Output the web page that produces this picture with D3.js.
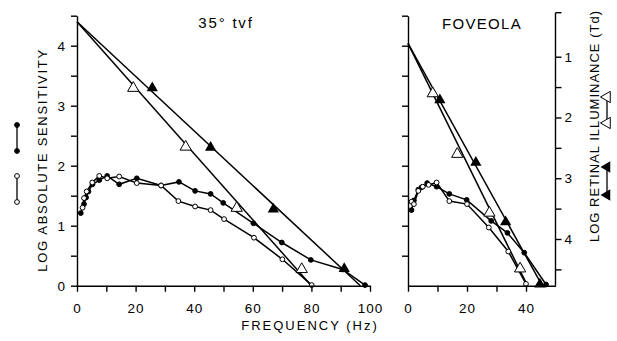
<!DOCTYPE html>
<html>
<head>
<meta charset="utf-8">
<script src="https://cdn.jsdelivr.net/npm/d3@7"></script>
<style>
  body { margin: 0; background: #fff; }
  text { font-family: "Liberation Sans", Arial, sans-serif; fill: #000; }
</style>
</head>
<body>
<div id="chart"></div>
<script>
// ---- data ----
// 35 deg temporal visual field
const tvfFilledFreq = [1.3, 2.4, 3.1, 3.9, 5.3, 7.6, 10.3, 14.4, 20.4, 28.7, 34.8, 40.3, 45.6, 49.9, 60.2, 69.9, 79.8, 90.7, 98.3];
const tvfFilledSens = [1.21, 1.36, 1.47, 1.57, 1.69, 1.76, 1.83, 1.69, 1.79, 1.67, 1.73, 1.58, 1.53, 1.38, 1.04, 0.72, 0.43, 0.27, 0.01];
const tvfOpenFreq   = [1.9, 2.4, 3.3, 5.2, 7.6, 10.3, 14.4, 20.4, 28.7, 34.6, 40.3, 45.6, 50.2, 60.4, 70.1, 80.1];
const tvfOpenSens   = [1.30, 1.46, 1.57, 1.72, 1.83, 1.79, 1.82, 1.71, 1.67, 1.41, 1.32, 1.26, 1.11, 0.80, 0.44, 0.01];
const tvfOpenTriFreq   = [19.2, 37.1, 54.5, 76.7];
const tvfOpenTriSens   = [3.31, 2.33, 1.31, 0.29];
const tvfFilledTriFreq = [25.7, 45.6, 67.0, 91.2];
const tvfFilledTriSens = [3.31, 2.32, 1.29, 0.30];
const tvfOpenFit   = [[0, 4.4], [80, 0]];
const tvfFilledFit = [[0, 4.4], [96.7, 0]];

// foveola
const fovFilledFreq = [1.2, 2.0, 3.5, 4.6, 6.5, 9.7, 14, 19.9, 28.2, 33.7, 39.4, 46.8];
const fovFilledSens = [1.26, 1.42, 1.60, 1.64, 1.71, 1.65, 1.53, 1.43, 1.08, 0.88, 0.55, 0.02];
const fovOpenFreq   = [1.2, 2.0, 3.5, 5.0, 7.0, 9.7, 14, 20, 27.4, 34, 40];
const fovOpenSens   = [1.40, 1.36, 1.58, 1.65, 1.68, 1.72, 1.41, 1.36, 0.97, 0.57, 0.03];
const fovOpenTriFreq   = [8.4, 16.7, 27.6, 38.0];
const fovOpenTriSens   = [3.22, 2.21, 1.23, 0.30];
const fovFilledTriFreq = [10.8, 23.0, 33.1, 44.7];
const fovFilledTriSens = [3.11, 2.07, 1.08, 0.04];
const fovOpenFit   = [[0, 4.04], [40.5, 0]];
const fovFilledFit = [[0, 4.04], [45.5, 0]];

const sensTicks = [0, 0.5, 1, 1.5, 2, 2.5, 3, 3.5, 4, 4.5];
const retinalTicks = [1, 1.5, 2, 2.5, 3, 3.5, 4, 4.5];
const tvfFreqTicks = [0, 10, 20, 30, 40, 50, 60, 70, 80, 90, 100];
const fovFreqTicks = [0, 10, 20, 30, 40, 50];

const W = 617, H = 341;
const svg = d3.select('#chart').append('svg').attr('width', W).attr('height', H);

const y = d3.scaleLinear().domain([0, 4.5]).range([285.7, 15.7]);
const xL = d3.scaleLinear().domain([0, 100]).range([77, 370]);
const xR = d3.scaleLinear().domain([0, 50]).range([408, 555.5]);
const yRet = d3.scaleLinear().domain([1, 4]).range([56.7, 239]);

const zip = (a, b) => a.map((v, i) => [v, b[i]]);
const tri = d3.symbol().type(d3.symbolTriangle).size(55);

function panel(x, sets) {
  const g = svg.append('g');
  const line = d3.line().x(d => x(d[0])).y(d => y(d[1]));

  // fit lines
  [sets.openFit, sets.filledFit].forEach(f => {
    g.append('path').attr('d', line(f)).attr('fill', 'none')
      .attr('stroke', '#000').attr('stroke-width', 1.5);
  });

  // circle curves
  [[sets.filled, '#000'], [sets.open, '#fff']].forEach(([pts, fill]) => {
    g.append('path').attr('d', line(pts)).attr('fill', 'none')
      .attr('stroke', '#000').attr('stroke-width', 1.5);
    g.selectAll(null).data(pts).enter().append('circle')
      .attr('cx', d => x(d[0])).attr('cy', d => y(d[1]))
      .attr('r', 2.4).attr('fill', fill).attr('stroke', '#000').attr('stroke-width', 1);
  });

  // triangles
  g.selectAll(null).data(sets.openTri).enter().append('path')
    .attr('d', tri).attr('transform', d => `translate(${x(d[0])},${y(d[1]) + 1})`)
    .attr('fill', '#fff').attr('stroke', '#000').attr('stroke-width', 1);
  g.selectAll(null).data(sets.filledTri).enter().append('path')
    .attr('d', tri).attr('transform', d => `translate(${x(d[0])},${y(d[1]) + 1})`)
    .attr('fill', '#000');
  return g;
}

panel(xL, {
  filled: zip(tvfFilledFreq, tvfFilledSens), open: zip(tvfOpenFreq, tvfOpenSens),
  openTri: zip(tvfOpenTriFreq, tvfOpenTriSens), filledTri: zip(tvfFilledTriFreq, tvfFilledTriSens),
  openFit: tvfOpenFit, filledFit: tvfFilledFit
});
panel(xR, {
  filled: zip(fovFilledFreq, fovFilledSens), open: zip(fovOpenFreq, fovOpenSens),
  openTri: zip(fovOpenTriFreq, fovOpenTriSens), filledTri: zip(fovFilledTriFreq, fovFilledTriSens),
  openFit: fovOpenFit, filledFit: fovFilledFit
});

// axes
function styleAxis(g) {
  g.selectAll('path, line').attr('stroke', '#000').attr('stroke-width', 1.4);
  g.selectAll('text').attr('font-size', 13.5).attr('letter-spacing', 1)
    .style('font-family', '"Liberation Sans", Arial, sans-serif');
}

svg.append('g').attr('transform', `translate(${xL(0)},0)`)
  .call(d3.axisLeft(y).tickValues(sensTicks).tickSize(6).tickSizeOuter(0)
    .tickFormat(d => Number.isInteger(d) ? d : ''))
  .call(styleAxis).call(g => g.selectAll('text').attr('dx', -2));

svg.append('g').attr('transform', `translate(${xR(0)},0)`)
  .call(d3.axisLeft(y).tickValues(sensTicks.filter(d => d > 0)).tickSize(6).tickSizeOuter(0).tickFormat(''))
  .call(styleAxis);

svg.append('g').attr('transform', `translate(0,${y(0)})`)
  .call(d3.axisBottom(xL).tickValues(tvfFreqTicks).tickSize(6).tickSizeOuter(0)
    .tickFormat(d => d % 20 === 0 ? d : ''))
  .call(styleAxis).call(g => g.selectAll('text').attr('dy', '1.35em'));

svg.append('g').attr('transform', `translate(0,${y(0)})`)
  .call(d3.axisBottom(xR).tickValues(fovFreqTicks.slice(0, 5)).tickSize(6).tickSizeOuter(0)
    .tickFormat(d => d % 20 === 0 ? d : ''))
  .call(styleAxis).call(g => g.selectAll('text').attr('dy', '1.35em'));

const rightAx = svg.append('g').attr('transform', `translate(${xR(50)},0)`);
rightAx.call(d3.axisRight(yRet).tickValues(retinalTicks).tickSize(6).tickSizeOuter(0)
    .tickFormat(d => Number.isInteger(d) ? d : ''))
  .call(styleAxis);
rightAx.select('.domain').attr('d', `M0,${y(4.55)}V${y(0)}`);
rightAx.append('line').attr('x1', 0).attr('x2', 6).attr('y1', y(4.55)).attr('y2', y(4.55))
  .attr('stroke', '#000').attr('stroke-width', 1.4);

// titles
svg.append('text').attr('x', 226).attr('y', 28).attr('text-anchor', 'middle')
  .attr('font-size', 15).attr('letter-spacing', 1.8).text('35° tvf');
svg.append('text').attr('x', 482).attr('y', 29).attr('text-anchor', 'middle')
  .attr('font-size', 15).attr('letter-spacing', 1.3).text('FOVEOLA');
svg.append('text').attr('x', 310).attr('y', 330).attr('text-anchor', 'middle')
  .attr('font-size', 13).attr('letter-spacing', 2).text('FREQUENCY (Hz)');
svg.append('text').attr('transform', 'translate(47,160) rotate(-90)').attr('text-anchor', 'middle')
  .attr('font-size', 13).attr('letter-spacing', 1.7).text('LOG ABSOLUTE SENSITIVITY');
svg.append('text').attr('transform', 'translate(599,126) rotate(-90)').attr('text-anchor', 'middle')
  .attr('font-size', 13).attr('letter-spacing', 1).text('LOG RETINAL ILLUMINANCE (Td)');

// legend keys beside the axis titles
function key(cx, y1, y2, mark) {
  svg.append('line').attr('x1', cx).attr('x2', cx).attr('y1', y1).attr('y2', y2)
    .attr('stroke', '#000').attr('stroke-width', 1.3);
  [y1, y2].forEach(yy => mark(cx, yy));
}
const dot = fill => (cx, cy) => svg.append('circle').attr('cx', cx).attr('cy', cy).attr('r', 2.4)
  .attr('fill', fill).attr('stroke', '#000');
const triMark = fill => (cx, cy) => svg.append('path').attr('d', tri)
  .attr('transform', `translate(${cx},${cy}) rotate(-90)`)
  .attr('fill', fill).attr('stroke', '#000').attr('stroke-width', fill === '#000' ? 0 : 1);
key(17, 125, 151, dot('#000'));
key(17, 176, 202, dot('#fff'));
key(607, 97, 123, triMark('#fff'));
key(607, 167, 195, triMark('#000'));
</script>
</body>
</html>
